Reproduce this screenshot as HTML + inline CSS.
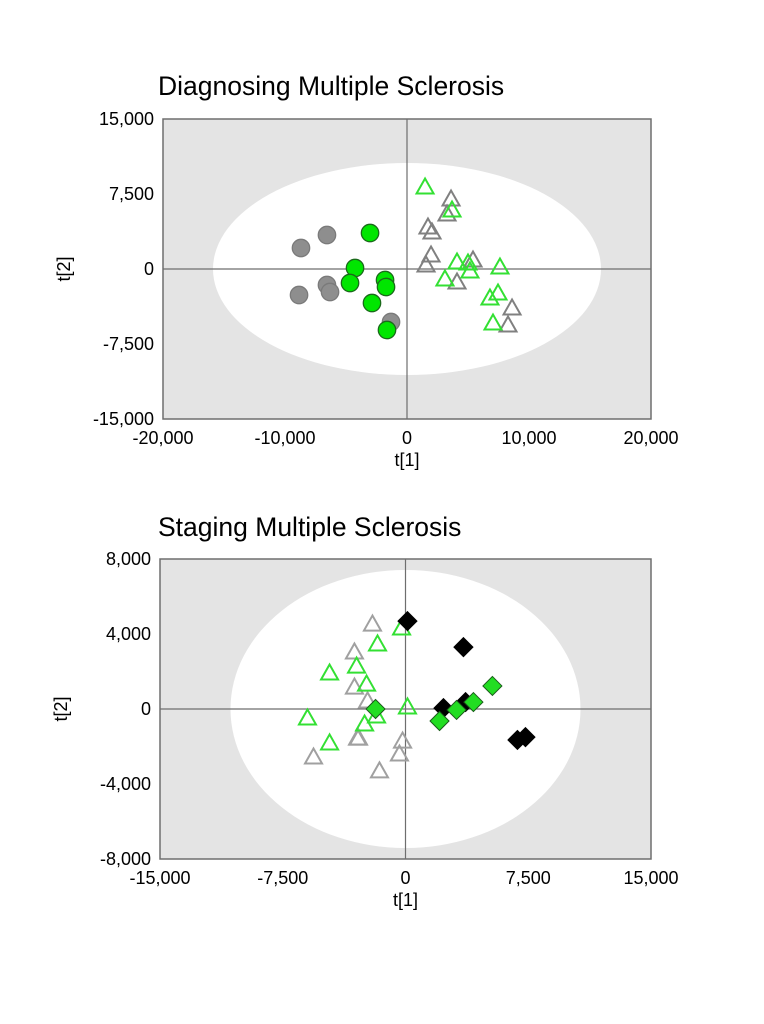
<!DOCTYPE html>
<html><head><meta charset="utf-8"><style>
html,body{margin:0;padding:0;background:#fff;}
svg{display:block;font-family:"Liberation Sans",Arial,sans-serif;}
</style></head><body>
<svg id="chart" width="764" height="1024" viewBox="0 0 764 1024">
<text x="158" y="95" font-size="26.5" fill="#000">Diagnosing Multiple Sclerosis</text>
<text x="158" y="536" font-size="26.5" fill="#000">Staging Multiple Sclerosis</text>
<g id="p1"></g>
<g id="p2"></g>
</svg>
<script>
// ---- Plot 1 data ----
const p1XTicks=[-20000,-10000,0,10000,20000];
const p1XLabels=["-20,000","-10,000","0","10,000","20,000"];
const p1YTicks=[15000,7500,0,-7500,-15000];
const p1YLabels=["15,000","7,500","0","-7,500","-15,000"];
const p1GrayCircX=[-6560,-8690,-6560,-6310,-8850,-1310];
const p1GrayCircY=[3400,2100,-1600,-2300,-2600,-5300];
const p1GreenCircX=[-3030,-4260,-4670,-1800,-1720,-2870,-1640];
const p1GreenCircY=[3600,100,-1400,-1100,-1800,-3400,-6100];
const p1GreenTriX=[1480,3690,4100,5000,5160,7620,3110,7460,6800,7050];
const p1GreenTriY=[8200,5900,700,600,-200,200,-1000,-2400,-2900,-5400];
const p1GrayTriX=[3610,3280,1720,2050,1970,1560,5410,4100,8610,8280];
const p1GrayTriY=[7000,5500,4200,3700,1400,400,900,-1300,-3900,-5600];
// ---- Plot 2 data ----
const p2XTicks=[-15000,-7500,0,7500,15000];
const p2XLabels=["-15,000","-7,500","0","7,500","15,000"];
const p2YTicks=[8000,4000,0,-4000,-8000];
const p2YLabels=["8,000","4,000","0","-4,000","-8,000"];
const p2GrayTriX=[-2020,-3120,-3120,-2320,-2930,-2870,-180,-370,-5620,-1590];
const p2GrayTriY=[4530,3040,1170,430,-1550,-1550,-1710,-2400,-2560,-3300];
const p2GreenTriX=[-240,-1710,-2990,-4640,-2380,120,-5990,-1770,-2500,-4640];
const p2GreenTriY=[4320,3470,2290,1920,1330,110,-480,-370,-800,-1810];
const p2BlackDiaX=[120,3540,2320,3670,6840,7330];
const p2BlackDiaY=[4690,3300,50,370,-1650,-1500];
const p2GreenDiaX=[-1830,2080,3120,4150,5310];
const p2GreenDiaY=[0,-640,-50,370,1230];

const NS="http://www.w3.org/2000/svg";
function mk(parent,tag,attrs){const e=document.createElementNS(NS,tag);for(const k in attrs)e.setAttribute(k,attrs[k]);parent.appendChild(e);return e;}

function axes(g,cfg){
  const sx=v=>cfg.L+(v-cfg.xmin)/(cfg.xmax-cfg.xmin)*(cfg.R-cfg.L);
  const sy=v=>cfg.B-(v-cfg.ymin)/(cfg.ymax-cfg.ymin)*(cfg.B-cfg.T);
  const bg=mk(g,'rect',{x:cfg.L,y:cfg.T,width:cfg.R-cfg.L,height:cfg.B-cfg.T,fill:'#e4e4e4',stroke:'#6e6e6e','stroke-width':1.5});
  
  
  const el=mk(g,'ellipse',{cx:sx(0),cy:sy(0),rx:cfg.rx,ry:cfg.ry,fill:'#fff'});
  
  
  const zx=mk(g,'line',{x1:sx(0),x2:sx(0),y1:cfg.T,y2:cfg.B,stroke:'#6e6e6e','stroke-width':1.2});
  
  
  const zy=mk(g,'line',{x1:cfg.L,x2:cfg.R,y1:sy(0),y2:sy(0),stroke:'#6e6e6e','stroke-width':1.2});
  
  
  cfg.xTicks.forEach((v,i)=>{const t=mk(g,'text',{x:sx(v),y:cfg.B+25,'font-size':18,'text-anchor':'middle',fill:'#000'});t.textContent=cfg.xLabels[i];
    
    });
  cfg.yTicks.forEach((v,i)=>{const t=mk(g,'text',{x:cfg.L-9,y:sy(v)+6,'font-size':18,'text-anchor':'end',fill:'#000'});t.textContent=cfg.yLabels[i];
    
    });
  const xt=mk(g,'text',{x:sx(0),y:cfg.B+47,'font-size':18,'text-anchor':'middle'});xt.textContent='t[1]';
  
  
  const cy=sy(0);
  const yt=mk(g,'text',{x:0,y:0,'font-size':18,'text-anchor':'middle',transform:`translate(${cfg.L-93},${cy}) rotate(-90)`});yt.textContent='t[2]';
  
  
  return {sx,sy};
}
function circles(g,s,xs,ys,fill,stroke,name){xs.forEach((x,i)=>{const c=mk(g,'circle',{cx:s.sx(x),cy:s.sy(ys[i]),r:8.7,fill:fill,stroke:stroke,'stroke-width':1.3});
  
  });}
function tris(g,s,xs,ys,stroke,name){xs.forEach((x,i)=>{const cx=s.sx(x),cy=s.sy(ys[i]);const p=mk(g,'polygon',{points:`${cx},${cy-8.5} ${cx-8.5},${cy+6.5} ${cx+8.5},${cy+6.5}`,fill:'none',stroke:stroke,'stroke-width':2});
  
  });}
function dias(g,s,xs,ys,fill,stroke,name){xs.forEach((x,i)=>{const cx=s.sx(x),cy=s.sy(ys[i]);const p=mk(g,'polygon',{points:`${cx},${cy-9.5} ${cx+9.5},${cy} ${cx},${cy+9.5} ${cx-9.5},${cy}`,fill:fill,stroke:stroke,'stroke-width':1});
  
  });}

const g1=document.getElementById('p1');
const s1=axes(g1,{L:163,R:651,T:119,B:419,xmin:-20000,xmax:20000,ymin:-15000,ymax:15000,rx:194,ry:106,xTicks:p1XTicks,xLabels:p1XLabels,yTicks:p1YTicks,yLabels:p1YLabels});
circles(g1,s1,p1GrayCircX,p1GrayCircY,'#8e8e8e','#7a7a7a','gray-circle-point');
circles(g1,s1,p1GreenCircX,p1GreenCircY,'#00e600','#1a6a1a','green-circle-point');
tris(g1,s1,p1GrayTriX,p1GrayTriY,'#808080','gray-triangle-point');
tris(g1,s1,p1GreenTriX,p1GreenTriY,'#33e033','green-triangle-point');

const g2=document.getElementById('p2');
const s2=axes(g2,{L:160,R:651,T:559,B:859,xmin:-15000,xmax:15000,ymin:-8000,ymax:8000,rx:175,ry:139,xTicks:p2XTicks,xLabels:p2XLabels,yTicks:p2YTicks,yLabels:p2YLabels});
tris(g2,s2,p2GrayTriX,p2GrayTriY,'#a0a0a0','gray-triangle-point');
tris(g2,s2,p2GreenTriX,p2GreenTriY,'#33e033','green-triangle-point');
dias(g2,s2,p2BlackDiaX,p2BlackDiaY,'#000','#000','black-diamond-point');
dias(g2,s2,p2GreenDiaX,p2GreenDiaY,'#22dd22','#1a5a1a','green-diamond-point');
</script>
</body></html>
